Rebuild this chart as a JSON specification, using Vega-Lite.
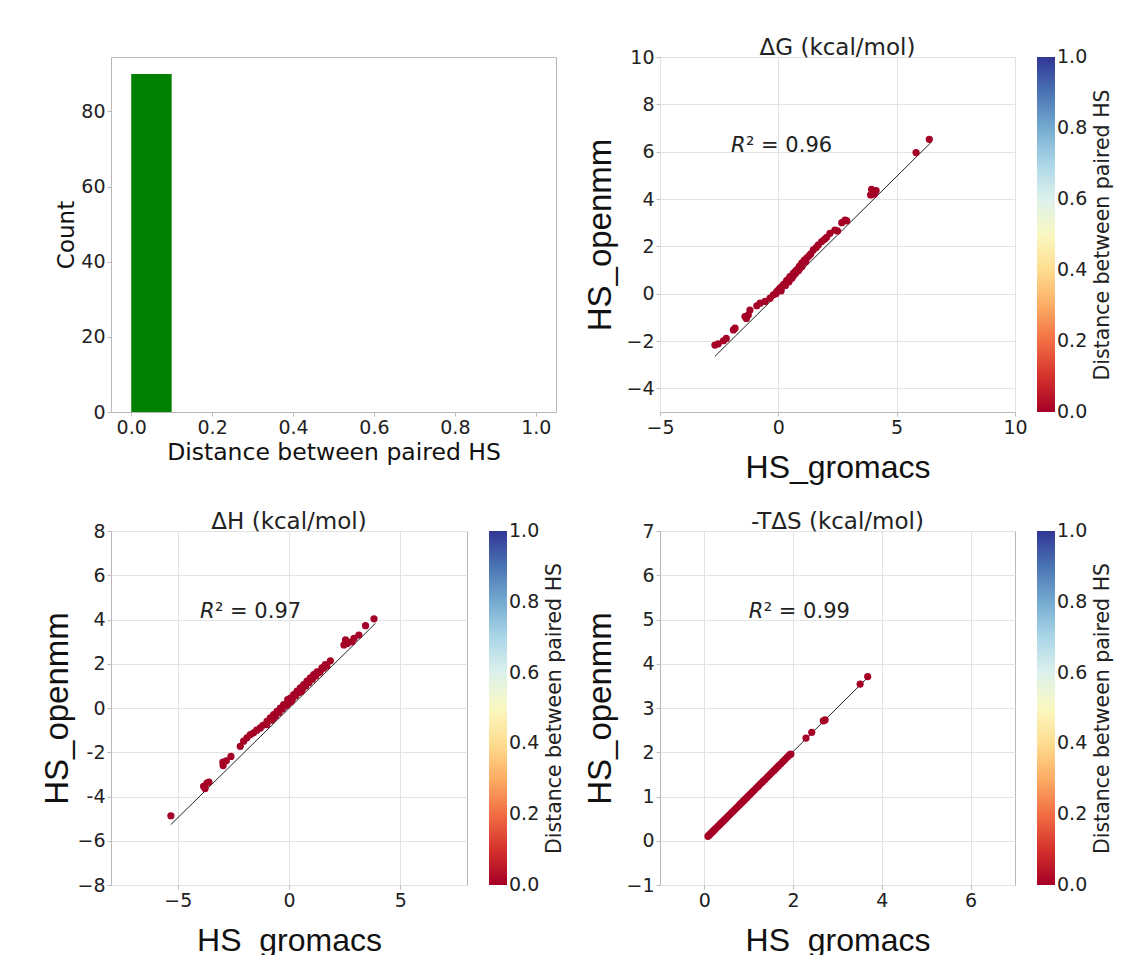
{
  "$schema": "https://vega.github.io/schema/vega-lite/v6.json",
  "background": "white",
  "padding": {"left": 41, "top": 36, "right": 5, "bottom": 5},
  "config": {
    "font": "DejaVu Sans",
    "view": {"stroke": "#b8b8b8", "strokeWidth": 1},
    "axis": {
      "domain": false,
      "labelFont": "DejaVu Sans",
      "labelFontSize": 19,
      "labelColor": "#222222",
      "tickColor": "#bcbcbc",
      "tickSize": 4,
      "labelPadding": 2,
      "gridColor": "#e3e3e3",
      "gridWidth": 1,
      "titleFontWeight": "normal",
      "titleColor": "#111111",
      "labelFlush": false,
      "labelOverlap": false
    },
    "title": {"font": "DejaVu Sans", "fontSize": 23, "fontWeight": "normal", "color": "#222222", "offset": -12, "anchor": "middle", "frame": "group"},
    "legend": {
      "gradientLength": 355,
      "gradientThickness": 18,
      "direction": "vertical",
      "orient": "none",
      "labelFontSize": 19,
      "labelFont": "DejaVu Sans",
      "labelColor": "#222222",
      "labelOffset": 4,
      "gradientStrokeWidth": 0
    }
  },
  "datasets": {
    "hist": [{"bin_start": 0, "bin_end": 0.1, "count": 90}],
    "dG": [
      {"x": -2.68, "y": -2.17, "dist": 0}, {"x": -2.54, "y": -2.12, "dist": 0}, {"x": -2.32, "y": -1.99, "dist": 0}, {"x": -2.2, "y": -1.89, "dist": 0},
      {"x": -1.9, "y": -1.53, "dist": 0}, {"x": -1.83, "y": -1.46, "dist": 0}, {"x": -1.41, "y": -0.97, "dist": 0}, {"x": -1.27, "y": -0.9, "dist": 0},
      {"x": -1.2, "y": -0.69, "dist": 0}, {"x": -1.35, "y": -1.05, "dist": 0}, {"x": -0.91, "y": -0.51, "dist": 0}, {"x": -0.77, "y": -0.4, "dist": 0},
      {"x": -0.56, "y": -0.33, "dist": 0}, {"x": -0.35, "y": -0.19, "dist": 0}, {"x": -0.21, "y": -0.05, "dist": 0}, {"x": -0.07, "y": 0.09, "dist": 0},
      {"x": 0.07, "y": 0.23, "dist": 0}, {"x": 0.15, "y": 0.3, "dist": 0}, {"x": 0.21, "y": 0.37, "dist": 0}, {"x": 0.28, "y": 0.42, "dist": 0},
      {"x": 0.35, "y": 0.55, "dist": 0}, {"x": 0.42, "y": 0.6, "dist": 0}, {"x": 0.49, "y": 0.72, "dist": 0}, {"x": 0.55, "y": 0.7, "dist": 0},
      {"x": 0.63, "y": 0.86, "dist": 0}, {"x": 0.7, "y": 0.92, "dist": 0}, {"x": 0.77, "y": 1.0, "dist": 0}, {"x": 0.83, "y": 1.05, "dist": 0},
      {"x": 0.89, "y": 1.15, "dist": 0}, {"x": 0.95, "y": 1.2, "dist": 0}, {"x": 0.99, "y": 1.29, "dist": 0}, {"x": 1.05, "y": 1.32, "dist": 0},
      {"x": 1.1, "y": 1.42, "dist": 0}, {"x": 1.2, "y": 1.5, "dist": 0}, {"x": 1.3, "y": 1.6, "dist": 0}, {"x": 1.37, "y": 1.68, "dist": 0},
      {"x": 1.48, "y": 1.85, "dist": 0}, {"x": 1.6, "y": 1.95, "dist": 0}, {"x": 1.69, "y": 2.06, "dist": 0}, {"x": 1.83, "y": 2.2, "dist": 0},
      {"x": 1.95, "y": 2.3, "dist": 0}, {"x": 2.04, "y": 2.38, "dist": 0}, {"x": 2.18, "y": 2.55, "dist": 0}, {"x": 2.39, "y": 2.69, "dist": 0},
      {"x": 2.5, "y": 2.65, "dist": 0}, {"x": 2.68, "y": 3.0, "dist": 0}, {"x": 2.82, "y": 3.11, "dist": 0}, {"x": 2.89, "y": 3.08, "dist": 0},
      {"x": 3.9, "y": 4.17, "dist": 0}, {"x": 3.94, "y": 4.41, "dist": 0}, {"x": 4.05, "y": 4.2, "dist": 0}, {"x": 4.13, "y": 4.35, "dist": 0},
      {"x": 5.82, "y": 5.96, "dist": 0}, {"x": 6.38, "y": 6.52, "dist": 0},
      {"x": 0.1, "y": 0.2, "dist": 0}, {"x": 0.25, "y": 0.4, "dist": 0}, {"x": 0.4, "y": 0.52, "dist": 0}, {"x": 0.5, "y": 0.62, "dist": 0},
      {"x": 0.6, "y": 0.75, "dist": 0}, {"x": 0.72, "y": 0.85, "dist": 0}, {"x": 0.8, "y": 0.95, "dist": 0}, {"x": 0.9, "y": 1.05, "dist": 0},
      {"x": 1.0, "y": 1.15, "dist": 0}, {"x": 1.15, "y": 1.35, "dist": 0}, {"x": 0.3, "y": 0.35, "dist": 0}, {"x": 0.45, "y": 0.5, "dist": 0},
      {"x": 0.65, "y": 0.78, "dist": 0}, {"x": 0.85, "y": 0.98, "dist": 0}, {"x": -0.1, "y": 0.0, "dist": 0}, {"x": 0.0, "y": 0.15, "dist": 0},
      {"x": 0.12, "y": 0.12, "dist": 0}, {"x": 0.58, "y": 0.66, "dist": 0}
    ],
    "dG_fit": [{"x": -2.68, "y": -2.65}, {"x": 6.48, "y": 6.42}],
    "dG_note": [{"x": -2, "y": 6, "r": "R", "rest": "² = 0.96"}],
    "dH": [
      {"x": -5.31, "y": -4.87, "dist": 0}, {"x": -3.84, "y": -3.54, "dist": 0}, {"x": -3.69, "y": -3.39, "dist": 0}, {"x": -3.77, "y": -3.64, "dist": 0},
      {"x": -3.6, "y": -3.35, "dist": 0}, {"x": -2.97, "y": -2.45, "dist": 0}, {"x": -2.82, "y": -2.39, "dist": 0}, {"x": -2.96, "y": -2.6, "dist": 0},
      {"x": -2.61, "y": -2.19, "dist": 0}, {"x": -2.19, "y": -1.73, "dist": 0}, {"x": -2.04, "y": -1.5, "dist": 0}, {"x": -1.89, "y": -1.35, "dist": 0},
      {"x": -1.74, "y": -1.2, "dist": 0}, {"x": -1.59, "y": -1.12, "dist": 0}, {"x": -1.45, "y": -1.0, "dist": 0}, {"x": -1.29, "y": -0.9, "dist": 0},
      {"x": -1.17, "y": -0.78, "dist": 0}, {"x": -0.99, "y": -0.6, "dist": 0}, {"x": -0.84, "y": -0.45, "dist": 0}, {"x": -0.69, "y": -0.3, "dist": 0},
      {"x": -0.54, "y": -0.15, "dist": 0}, {"x": -0.39, "y": 0.0, "dist": 0}, {"x": -0.24, "y": 0.15, "dist": 0}, {"x": -0.09, "y": 0.15, "dist": 0},
      {"x": -0.06, "y": 0.38, "dist": 0}, {"x": 0.06, "y": 0.45, "dist": 0}, {"x": 0.21, "y": 0.6, "dist": 0}, {"x": 0.36, "y": 0.76, "dist": 0},
      {"x": 0.51, "y": 0.91, "dist": 0}, {"x": 0.66, "y": 1.06, "dist": 0}, {"x": 0.81, "y": 1.21, "dist": 0}, {"x": 0.96, "y": 1.36, "dist": 0},
      {"x": 1.11, "y": 1.51, "dist": 0}, {"x": 1.26, "y": 1.63, "dist": 0}, {"x": 1.48, "y": 1.81, "dist": 0}, {"x": 1.63, "y": 1.96, "dist": 0},
      {"x": 1.86, "y": 2.13, "dist": 0}, {"x": 2.47, "y": 2.85, "dist": 0}, {"x": 2.54, "y": 3.08, "dist": 0}, {"x": 2.62, "y": 2.92, "dist": 0},
      {"x": 2.83, "y": 3.0, "dist": 0}, {"x": 2.92, "y": 3.15, "dist": 0}, {"x": 3.14, "y": 3.3, "dist": 0}, {"x": 3.44, "y": 3.72, "dist": 0},
      {"x": 3.82, "y": 4.03, "dist": 0},
      {"x": -1.0, "y": -0.75, "dist": 0}, {"x": -0.8, "y": -0.55, "dist": 0}, {"x": -0.6, "y": -0.35, "dist": 0}, {"x": -0.45, "y": -0.2, "dist": 0},
      {"x": -0.3, "y": -0.05, "dist": 0}, {"x": -0.15, "y": 0.1, "dist": 0}, {"x": 0.0, "y": 0.25, "dist": 0}, {"x": 0.1, "y": 0.3, "dist": 0},
      {"x": 0.3, "y": 0.55, "dist": 0}, {"x": 0.45, "y": 0.7, "dist": 0}, {"x": 0.6, "y": 0.85, "dist": 0}, {"x": 0.75, "y": 1.0, "dist": 0},
      {"x": 0.9, "y": 1.15, "dist": 0}, {"x": 1.05, "y": 1.3, "dist": 0}, {"x": 1.2, "y": 1.45, "dist": 0}, {"x": 1.35, "y": 1.6, "dist": 0},
      {"x": 1.55, "y": 1.8, "dist": 0}, {"x": 1.7, "y": 1.9, "dist": 0}, {"x": 0.15, "y": 0.4, "dist": 0}, {"x": -0.7, "y": -0.45, "dist": 0},
      {"x": 1.4, "y": 1.65, "dist": 0}, {"x": 0.55, "y": 0.75, "dist": 0}
    ],
    "dH_fit": [{"x": -5.31, "y": -5.27}, {"x": 3.89, "y": 3.83}],
    "dH_note": [{"x": -4, "y": 4.05, "r": "R", "rest": "² = 0.97"}],
    "TdS": [
      {"x": 0.08, "y": 0.1, "dist": 0}, {"x": 0.1, "y": 0.12, "dist": 0}, {"x": 0.12, "y": 0.14, "dist": 0}, {"x": 0.15, "y": 0.17, "dist": 0},
      {"x": 0.18, "y": 0.2, "dist": 0}, {"x": 0.2, "y": 0.22, "dist": 0}, {"x": 0.23, "y": 0.25, "dist": 0}, {"x": 0.26, "y": 0.28, "dist": 0},
      {"x": 0.3, "y": 0.32, "dist": 0}, {"x": 0.33, "y": 0.35, "dist": 0}, {"x": 0.36, "y": 0.38, "dist": 0}, {"x": 0.4, "y": 0.42, "dist": 0},
      {"x": 0.44, "y": 0.46, "dist": 0}, {"x": 0.48, "y": 0.5, "dist": 0}, {"x": 0.52, "y": 0.54, "dist": 0}, {"x": 0.56, "y": 0.58, "dist": 0},
      {"x": 0.6, "y": 0.62, "dist": 0}, {"x": 0.64, "y": 0.66, "dist": 0}, {"x": 0.68, "y": 0.7, "dist": 0}, {"x": 0.72, "y": 0.74, "dist": 0},
      {"x": 0.76, "y": 0.78, "dist": 0}, {"x": 0.8, "y": 0.82, "dist": 0}, {"x": 0.84, "y": 0.86, "dist": 0}, {"x": 0.88, "y": 0.9, "dist": 0},
      {"x": 0.92, "y": 0.94, "dist": 0}, {"x": 0.96, "y": 0.98, "dist": 0}, {"x": 1.0, "y": 1.02, "dist": 0}, {"x": 1.04, "y": 1.06, "dist": 0},
      {"x": 1.08, "y": 1.1, "dist": 0}, {"x": 1.12, "y": 1.14, "dist": 0}, {"x": 1.17, "y": 1.19, "dist": 0}, {"x": 1.22, "y": 1.24, "dist": 0},
      {"x": 1.27, "y": 1.29, "dist": 0}, {"x": 1.32, "y": 1.34, "dist": 0}, {"x": 1.37, "y": 1.39, "dist": 0}, {"x": 1.42, "y": 1.44, "dist": 0},
      {"x": 1.47, "y": 1.49, "dist": 0}, {"x": 1.52, "y": 1.54, "dist": 0}, {"x": 1.57, "y": 1.59, "dist": 0}, {"x": 1.62, "y": 1.64, "dist": 0},
      {"x": 1.67, "y": 1.69, "dist": 0}, {"x": 1.72, "y": 1.74, "dist": 0}, {"x": 1.77, "y": 1.79, "dist": 0}, {"x": 1.82, "y": 1.84, "dist": 0},
      {"x": 1.87, "y": 1.89, "dist": 0}, {"x": 1.92, "y": 1.94, "dist": 0}, {"x": 1.95, "y": 1.96, "dist": 0},
      {"x": 2.29, "y": 2.32, "dist": 0}, {"x": 2.42, "y": 2.45, "dist": 0}, {"x": 2.68, "y": 2.71, "dist": 0}, {"x": 2.72, "y": 2.73, "dist": 0},
      {"x": 3.51, "y": 3.54, "dist": 0}, {"x": 3.68, "y": 3.71, "dist": 0}
    ],
    "TdS_fit": [{"x": 0.05, "y": 0.07}, {"x": 3.7, "y": 3.71}],
    "TdS_note": [{"x": 1, "y": 5.04, "r": "R", "rest": "² = 0.99"}]
  },
  "bounds": "flush",
  "columns": 2,
  "spacing": {"row": 119, "column": 104},
  "resolve": {"scale": {"color": "independent"}, "legend": {"color": "independent"}},
  "concat": [
    {
      "width": 445,
      "height": 355,
      "data": {"name": "hist"},
      "mark": {"type": "bar", "color": "#008000"},
      "encoding": {
        "x": {"field": "bin_start", "type": "quantitative", "scale": {"domain": [-0.05, 1.05], "nice": false, "zero": false},
              "axis": {"values": [0, 0.2, 0.4, 0.6, 0.8, 1.0], "format": ".1f", "grid": false, "title": "Distance between paired HS", "titleFont": "DejaVu Sans", "titleFontSize": 23.5, "titlePadding": 3}},
        "x2": {"field": "bin_end"},
        "y": {"field": "count", "type": "quantitative", "scale": {"domain": [0, 94.5], "nice": false},
              "axis": {"values": [0, 20, 40, 60, 80], "grid": false, "title": "Count", "titleFont": "DejaVu Sans", "titleFontSize": 23, "titlePadding": 2}},
        "y2": {"datum": 0}
      }
    },
    {
      "width": 355,
      "height": 355,
      "title": "ΔG (kcal/mol)",
      "resolve": {"axis": {"y": "independent"}},
      "encoding": {
        "x": {"field": "x", "type": "quantitative", "scale": {"domain": [-5, 10], "nice": false, "zero": false},
              "axis": {"values": [-5, 0, 5, 10], "title": "HS_gromacs", "titleFont": "Liberation Sans", "titleFontSize": 32, "titlePadding": 15}},
        "y": {"field": "y", "type": "quantitative", "scale": {"domain": [-5, 10], "nice": false, "zero": false}, "axis": null}
      },
      "layer": [
        {"data": {"name": "dG_fit"}, "mark": {"type": "line", "color": "#222222", "strokeWidth": 1},
         "encoding": {"y": {"field": "y", "type": "quantitative", "scale": {"domain": [-5, 10], "nice": false, "zero": false},
           "axis": {"values": [-4, -2, 0, 2, 4, 6, 8, 10], "title": "HS_openmm", "titleFont": "Liberation Sans", "titleFontSize": 33, "titlePadding": 8}}}},
        {"data": {"name": "dG"}, "mark": {"type": "circle", "size": 52, "opacity": 1},
         "encoding": {
           "y": {"field": "y", "type": "quantitative", "scale": {"domain": [-5, 10], "nice": false, "zero": false},
             "axis": {"orient": "right", "labels": false, "ticks": false, "domain": false, "grid": false, "title": "Distance between paired HS",
               "titleAngle": 270, "titleBaseline": "top", "titleFont": "DejaVu Sans", "titleFontSize": 20.5, "titleColor": "#222222", "titlePadding": 77}},
           "color": {"field": "dist", "type": "quantitative", "scale": {"scheme": "redyellowblue", "domain": [0, 1]},
             "legend": {"values": [0.001, 0.2, 0.4, 0.6, 0.8, 0.999], "format": ".1f", "legendX": 377, "legendY": 0, "title": null}}}},
        {"data": {"name": "dG_note"}, "mark": {"type": "text", "align": "left", "baseline": "alphabetic", "fontStyle": "italic", "fontSize": 21, "font": "DejaVu Sans", "color": "#222222"}, "encoding": {"text": {"field": "r"}}},
        {"data": {"name": "dG_note"}, "mark": {"type": "text", "align": "left", "baseline": "alphabetic", "dx": 15, "fontSize": 21, "font": "DejaVu Sans", "color": "#222222"}, "encoding": {"text": {"field": "rest"}}}
      ]
    },
    {
      "width": 356,
      "height": 354,
      "title": "ΔH (kcal/mol)",
      "resolve": {"axis": {"y": "independent"}},
      "encoding": {
        "x": {"field": "x", "type": "quantitative", "scale": {"domain": [-8, 8], "nice": false, "zero": false},
              "axis": {"values": [-5, 0, 5], "title": "HS_gromacs", "titleFont": "Liberation Sans", "titleFontSize": 32, "titlePadding": 15}},
        "y": {"field": "y", "type": "quantitative", "scale": {"domain": [-8, 8], "nice": false, "zero": false}, "axis": null}
      },
      "layer": [
        {"data": {"name": "dH_fit"}, "mark": {"type": "line", "color": "#222222", "strokeWidth": 1},
         "encoding": {"y": {"field": "y", "type": "quantitative", "scale": {"domain": [-8, 8], "nice": false, "zero": false},
           "axis": {"values": [-8, -6, -4, -2, 0, 2, 4, 6, 8], "labelExpr": "datum.value == -2 ? '-2' : datum.value == -4 ? '-4' : datum.label", "title": "HS_openmm", "titleFont": "Liberation Sans", "titleFontSize": 33, "titlePadding": 2}}}},
        {"data": {"name": "dH"}, "mark": {"type": "circle", "size": 52, "opacity": 1},
         "encoding": {
           "y": {"field": "y", "type": "quantitative", "scale": {"domain": [-8, 8], "nice": false, "zero": false},
             "axis": {"orient": "right", "labels": false, "ticks": false, "domain": false, "grid": false, "title": "Distance between paired HS",
               "titleAngle": 270, "titleBaseline": "top", "titleFont": "DejaVu Sans", "titleFontSize": 20.5, "titleColor": "#222222", "titlePadding": 77}},
           "color": {"field": "dist", "type": "quantitative", "scale": {"scheme": "redyellowblue", "domain": [0, 1]},
             "legend": {"values": [0.001, 0.2, 0.4, 0.6, 0.8, 0.999], "format": ".1f", "legendX": 378, "legendY": 0, "gradientLength": 354, "title": null}}}},
        {"data": {"name": "dH_note"}, "mark": {"type": "text", "align": "left", "baseline": "alphabetic", "fontStyle": "italic", "fontSize": 21, "font": "DejaVu Sans", "color": "#222222"}, "encoding": {"text": {"field": "r"}}},
        {"data": {"name": "dH_note"}, "mark": {"type": "text", "align": "left", "baseline": "alphabetic", "dx": 15, "fontSize": 21, "font": "DejaVu Sans", "color": "#222222"}, "encoding": {"text": {"field": "rest"}}}
      ]
    },
    {
      "width": 355,
      "height": 354,
      "title": "-TΔS (kcal/mol)",
      "resolve": {"axis": {"y": "independent"}},
      "encoding": {
        "x": {"field": "x", "type": "quantitative", "scale": {"domain": [-1, 7], "nice": false, "zero": false},
              "axis": {"values": [0, 2, 4, 6], "title": "HS_gromacs", "titleFont": "Liberation Sans", "titleFontSize": 32, "titlePadding": 15}},
        "y": {"field": "y", "type": "quantitative", "scale": {"domain": [-1, 7], "nice": false, "zero": false}, "axis": null}
      },
      "layer": [
        {"data": {"name": "TdS_fit"}, "mark": {"type": "line", "color": "#222222", "strokeWidth": 1},
         "encoding": {"y": {"field": "y", "type": "quantitative", "scale": {"domain": [-1, 7], "nice": false, "zero": false},
           "axis": {"values": [-1, 0, 1, 2, 3, 4, 5, 6, 7], "title": "HS_openmm", "titleFont": "Liberation Sans", "titleFontSize": 33, "titlePadding": 8}}}},
        {"data": {"name": "TdS"}, "mark": {"type": "circle", "size": 52, "opacity": 1},
         "encoding": {
           "y": {"field": "y", "type": "quantitative", "scale": {"domain": [-1, 7], "nice": false, "zero": false},
             "axis": {"orient": "right", "labels": false, "ticks": false, "domain": false, "grid": false, "title": "Distance between paired HS",
               "titleAngle": 270, "titleBaseline": "top", "titleFont": "DejaVu Sans", "titleFontSize": 20.5, "titleColor": "#222222", "titlePadding": 77}},
           "color": {"field": "dist", "type": "quantitative", "scale": {"scheme": "redyellowblue", "domain": [0, 1]},
             "legend": {"values": [0.001, 0.2, 0.4, 0.6, 0.8, 0.999], "format": ".1f", "legendX": 377, "legendY": 0, "gradientLength": 354, "title": null}}}},
        {"data": {"name": "TdS_note"}, "mark": {"type": "text", "align": "left", "baseline": "alphabetic", "fontStyle": "italic", "fontSize": 21, "font": "DejaVu Sans", "color": "#222222"}, "encoding": {"text": {"field": "r"}}},
        {"data": {"name": "TdS_note"}, "mark": {"type": "text", "align": "left", "baseline": "alphabetic", "dx": 15, "fontSize": 21, "font": "DejaVu Sans", "color": "#222222"}, "encoding": {"text": {"field": "rest"}}}
      ]
    }
  ]
}
